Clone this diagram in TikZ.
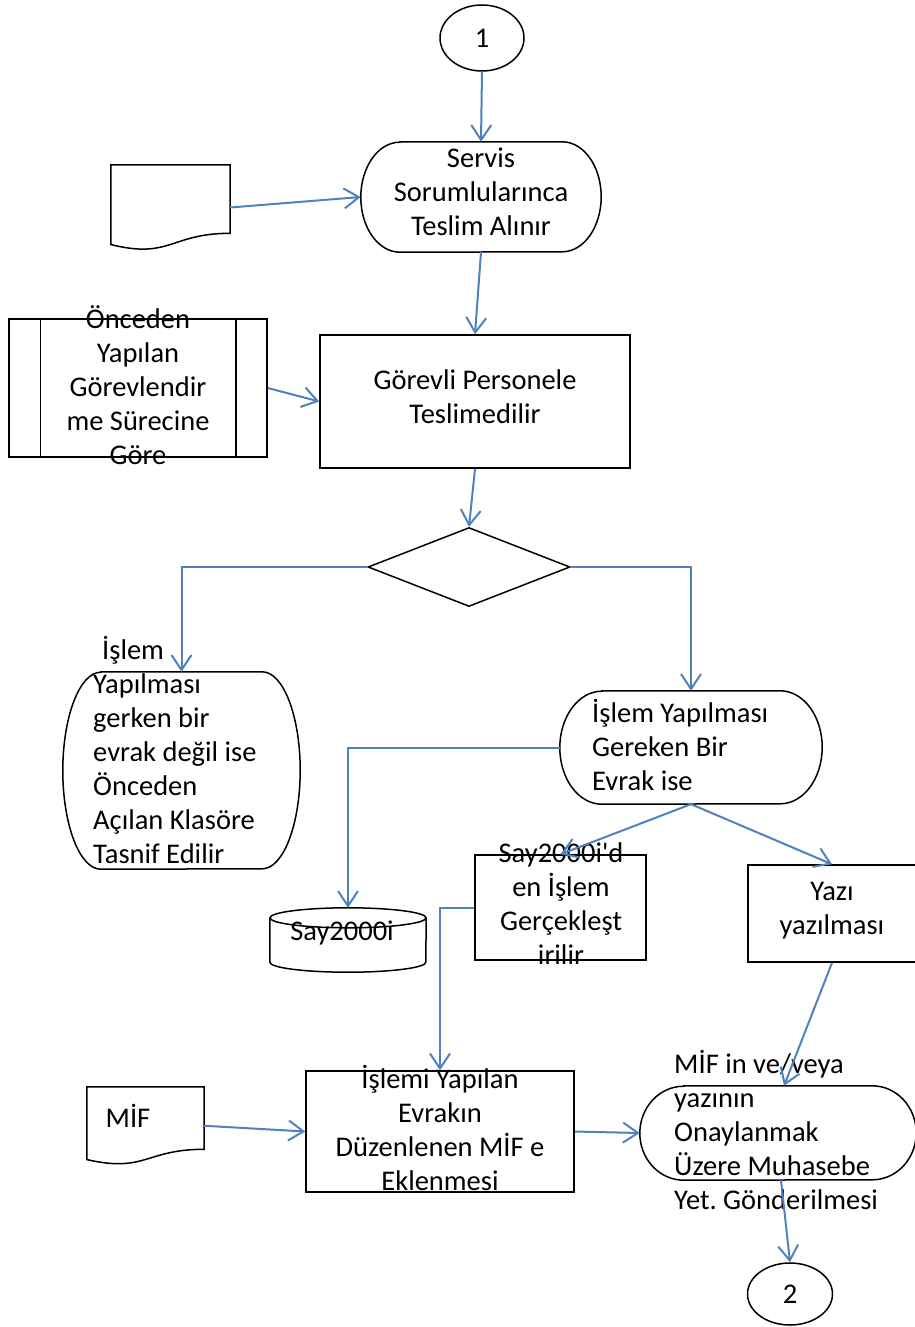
\documentclass[tikz,border=0pt]{standalone}
\usepackage{fontspec}
\setmainfont{Carlito}
\frenchspacing
\usetikzlibrary{arrows.meta,shapes.geometric,calc}
\definecolor{lblue}{RGB}{79,129,189}
\newcommand\mytxt{\fontsize{28.5}{34}\selectfont}
\newcommand\topstrut{\rule[-10.2pt]{0pt}{39pt}}
\newcommand\termdraw[3]{\draw[shp] ([xshift=#2]#1.north west) -- ([xshift=-#2]#1.north east) arc[start angle=90,end angle=-90,x radius=#2,y radius=#3] -- ([xshift=#2]#1.south west) arc[start angle=270,end angle=90,x radius=#2,y radius=#3] -- cycle;}
\newcommand\docdraw[1]{\draw[shp] (#1.north west) -- (#1.north east) -- ($(#1.north east)!0.802!(#1.south east)$) .. controls ($(#1.north)!0.802!(#1.south)$) and ($(#1.north)!1.107!(#1.south)$) .. ($(#1.north west)!0.934!(#1.south west)$) -- cycle;}
\begin{document}
\begin{tikzpicture}[x=1pt,y=-1pt,
  shp/.style={draw=black,line width=1.5pt},
  txt/.style={font=\mytxt,inner sep=0pt,execute at begin node=\topstrut,execute at end node=\strut},
  blank/.style={inner sep=0pt},
  arr/.style={draw=lblue,line width=2pt,-{Straight Barb[length=15pt,width=20pt]}}]
\useasboundingbox (0,0) rectangle (914,1327);

% top connector
\node[shp,ellipse,txt,minimum width=84pt,minimum height=66pt] (c1) at (482,38) {1};

% terminator 1
\node[txt,align=center,minimum width=240pt,minimum height=110pt] (t1) at (481,197) {Servis\\Sorumlularınca\\Teslim Alınır};
\termdraw{t1}{39pt}{55pt}

% document 1
\node[blank,minimum width=119pt,minimum height=85pt] (doc1) at (170.5,207.5) {};
\docdraw{doc1}

% predefined process
\node[shp,blank,minimum width=258pt,minimum height=138pt] (pp) at (138,388) {};
\draw[shp] ([xshift=32pt]pp.north west) -- ([xshift=32pt]pp.south west);
\draw[shp] ([xshift=-32pt]pp.north east) -- ([xshift=-32pt]pp.south east);
\node[txt,align=center] (pptext) at (138,390) {Önceden\\Yapılan\\Görevlendir\\me Sürecine\\Göre};

% process
\node[shp,txt,align=center,minimum width=310pt,minimum height=133pt] (g) at (475,401.5) {Görevli Personele\\Teslimedilir};

% decision
\node[shp,diamond,blank,minimum width=202pt,minimum height=79pt] (d) at (469,567) {};

% left terminator
\node[blank,minimum width=237pt,minimum height=197pt] (t2) at (181.5,770.5) {};
\termdraw{t2}{38pt}{98.5pt}
\node[txt,align=left,anchor=west] (t2text) at (93,754.5) {\hspace*{9pt}İşlem\\Yapılması\\gerken bir\\evrak değil ise\\Önceden\\Açılan Klasöre\\Tasnif Edilir};

% right terminator
\node[blank,minimum width=262pt,minimum height=113pt] (t3) at (691,747.5) {};
\termdraw{t3}{42pt}{56.5pt}
\node[txt,align=left,anchor=west] (t3text) at (592,749.5) {İşlem Yapılması\\Gereken Bir\\Evrak ise};

% cylinder
\node[blank,minimum width=156pt,minimum height=64pt] (cy) at (348,940) {};
\draw[shp] ([yshift=-10pt]cy.north) ellipse[x radius=78pt,y radius=10pt];
\draw[shp] ([yshift=-10pt]cy.north west) -- ([yshift=10pt]cy.south west) arc[start angle=180,end angle=360,x radius=78pt,y radius=10pt] -- ([yshift=-10pt]cy.north east);
\node[txt] (cytext) at (342,931) {Say2000i};

% Say2000 process
\node[shp,blank,minimum width=171pt,minimum height=105pt] (s1) at (560.5,907.5) {};
\node[txt,align=center] (s1text) at (561,909) {Say2000i\textquotesingle d\\en İşlem\\Gerçekleşt\\irilir};

% Yazi box
\node[shp,txt,align=center,minimum width=168pt,minimum height=97pt] (yz) at (832,913.5) {Yazı\\yazılması};

% MIF document
\node[blank,minimum width=117pt,minimum height=77.5pt] (mifdoc) at (145.5,1125.75) {};
\docdraw{mifdoc}
\node[txt] (miftext) at (128,1118) {MİF};

% Islemi box
\node[shp,blank,minimum width=268pt,minimum height=121pt] (b3) at (440,1131.5) {};
\node[txt,align=center] (b3text) at (440,1133) {İşlemi Yapılan\\Evrakın\\Düzenlenen MİF e\\Eklenmesi};

% MIF terminator
\node[blank,minimum width=276pt,minimum height=94pt] (t4) at (778,1133) {};
\termdraw{t4}{44pt}{47pt}
\node[txt,align=left,anchor=west] (t4text) at (674,1134.5) {MİF in ve/veya\\yazının\\Onaylanmak\\Üzere Muhasebe\\Yet. Gönderilmesi};

% bottom connector
\node[shp,ellipse,txt,minimum width=85pt,minimum height=62pt] (c2) at (790,1294) {2};

% connectors
\draw[arr] (c1.south) -- (t1.north);
\draw[arr] (doc1.east) -- (t1.west);
\draw[arr] (t1.south) -- (g.north);
\draw[arr] (pp.east) -- (g.west);
\draw[arr] (g.south) -- (d.north);
\draw[arr] (d.west) -| (t2.north);
\draw[arr] (d.east) -| (t3.north);
\draw[arr] (t3.west) -| (cy.north);
\draw[arr] (t3.south) -- (s1.north);
\draw[arr] (t3.south) -- (yz.north);
\draw[arr] (s1.west) -| (b3.north);
\draw[arr] (yz.south) -- ([xshift=6pt]t4.north);
\draw[arr] (mifdoc.east) -- (b3.west);
\draw[arr] (b3.east) -- (t4.west);
\draw[arr] ([xshift=3pt]t4.south) -- (c2.north);
\end{tikzpicture}
\end{document}
